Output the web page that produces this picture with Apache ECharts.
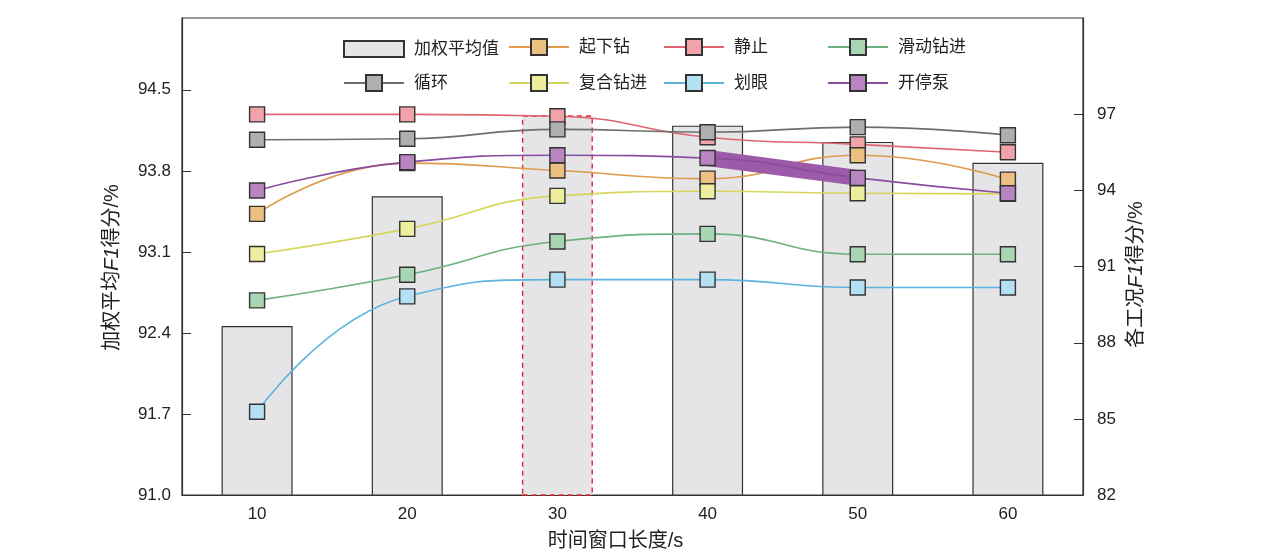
<!DOCTYPE html>
<html>
<head>
<meta charset="utf-8">
<script src="https://cdn.jsdelivr.net/npm/echarts@6/dist/echarts.min.js"></script>
<style>
  html, body { margin: 0; padding: 0; background: #fff; }
  #mainChart { width: 1270px; height: 560px; }
</style>
</head>
<body>
<div id="mainChart"></div>
<script>
// time window lengths (s)
var windows = ['10', '20', '30', '40', '50', '60'];

// weighted average F1 (left axis)
var weightedAvg = [92.46, 93.58, 94.28, 94.19, 94.05, 93.87];

// per-condition F1 (right axis)
var trip      = [93.08, 95.08, 94.79, 94.47, 95.39, 94.43]; // 起下钻
var still     = [97.00, 97.00, 96.93, 96.10, 95.82, 95.51]; // 静止
var slide     = [89.67, 90.68, 91.99, 92.29, 91.49, 91.49]; // 滑动钻进
var circulate = [96.00, 96.04, 96.41, 96.30, 96.50, 96.18]; // 循环
var rotary    = [91.50, 92.49, 93.79, 93.97, 93.89, 93.87]; // 复合钻进
var ream      = [85.28, 89.83, 90.49, 90.49, 90.18, 90.18]; // 划眼
var pump      = [94.00, 95.12, 95.39, 95.28, 94.50, 93.89]; // 开停泵

// tick labels
var leftTicks  = [91.0, 91.7, 92.4, 93.1, 93.8, 94.5];
var rightTicks = [82, 85, 88, 91, 94, 97];

var FONT = 'Arial, "Liberation Sans", "Noto Sans CJK SC", sans-serif';

var chart = echarts.init(document.getElementById('mainChart'));

function lineSeries(name, data, lineColor, fill) {
    return {
        name: name,
        type: 'line',
        yAxisIndex: 1,
        data: data,
        smooth: 0.5,
        symbol: 'rect',
        symbolSize: 15,
        lineStyle: { color: lineColor, width: 1.6 },
        itemStyle: { color: fill, borderColor: '#333', borderWidth: 1.4 },
        emphasis: { disabled: true },
        z: 3
    };
}

function legendAt(name, left, top, h) {
    return {
        data: [name],
        left: left,
        top: top,
        padding: 0,
        itemWidth: 60,
        itemHeight: h,
        textStyle: { fontFamily: FONT, fontSize: 17, color: '#222', padding: [0, 0, 0, 5] },
        selectedMode: false
    };
}

// bar at 30 s is highlighted with a red dashed outline
var barData = weightedAvg.map(function (v, i) {
    if (i === 2) {
        return { value: v, itemStyle: { borderColor: '#e0262f', borderType: [5, 4], borderWidth: 1.4 } };
    }
    return v;
});

// the thick purple stroke between 40 s and 50 s
var pumpBand = pump.map(function (v, i) { return (i === 3 || i === 4) ? v : null; });

var option = {
    animation: false,
    textStyle: { fontFamily: FONT },
    grid: {
        left: 182, right: 187, top: 18, bottom: 65,
        show: true, borderColor: '#333', borderWidth: 1.2
    },
    legend: [
        Object.assign(legendAt('加权平均值', 343, 40, 16), { icon: 'rect' }),
        legendAt('起下钻', 508, 38, 20),
        legendAt('静止', 663, 38, 20),
        legendAt('滑动钻进', 827, 38, 20),
        legendAt('循环', 343, 74, 20),
        legendAt('复合钻进', 508, 74, 20),
        legendAt('划眼', 663, 74, 20),
        legendAt('开停泵', 827, 74, 20)
    ],
    xAxis: {
        type: 'category',
        data: windows,
        boundaryGap: true,
        name: '时间窗口长度/s',
        nameLocation: 'middle',
        nameGap: 36,
        nameTextStyle: { fontFamily: FONT, fontSize: 20, color: '#222', padding: [0, 34, 0, 0] },
        axisLine: { lineStyle: { color: '#333', width: 1.2 } },
        axisTick: { inside: true, length: 8, lineStyle: { color: '#333' } },
        axisLabel: { fontFamily: FONT, fontSize: 17, color: '#222', margin: 11 }
    },
    yAxis: [
        {
            type: 'value',
            min: 91.0,
            max: 95.12,
            interval: 0.7,
            name: '加权平均{i|F1}得分/%',
            nameLocation: 'middle',
            nameGap: 60,
            nameTextStyle: {
                fontFamily: FONT, fontSize: 20, color: '#222', padding: [0, 22, 0, 0],
                rich: { i: { fontFamily: FONT, fontSize: 20, fontStyle: 'italic', color: '#222' } }
            },
            axisLine: { show: true, lineStyle: { color: '#333', width: 1.2 } },
            axisTick: { show: true, inside: true, length: 9, customValues: leftTicks, lineStyle: { color: '#333' } },
            axisLabel: {
                fontFamily: FONT, fontSize: 17, color: '#222', margin: 11,
                customValues: leftTicks,
                formatter: function (v) { return v.toFixed(1); }
            },
            splitLine: { show: false }
        },
        {
            type: 'value',
            min: 82,
            max: 100.8,
            interval: 3,
            position: 'right',
            name: '各工况{i|F1}得分/%',
            nameLocation: 'middle',
            nameGap: 30,
            nameTextStyle: {
                fontFamily: FONT, fontSize: 20, color: '#222', padding: [0, 36, 0, 0],
                rich: { i: { fontFamily: FONT, fontSize: 20, fontStyle: 'italic', color: '#222' } }
            },
            axisLine: { show: true, lineStyle: { color: '#333', width: 1.2 } },
            axisTick: { show: true, inside: true, length: 9, customValues: rightTicks, lineStyle: { color: '#333' } },
            axisLabel: { fontFamily: FONT, fontSize: 17, color: '#222', margin: 14, customValues: rightTicks },
            splitLine: { show: false }
        }
    ],
    series: [
        {
            name: '加权平均值',
            type: 'bar',
            yAxisIndex: 0,
            data: barData,
            barWidth: 71,
            itemStyle: { color: '#e5e5e7', borderColor: '#333', borderWidth: 1.2 },
            emphasis: { disabled: true },
            z: 1
        },
        lineSeries('静止', still, '#e0646e', '#f2a3a9'),
        lineSeries('循环', circulate, '#6e6e6e', '#b0aeae'),
        lineSeries('起下钻', trip, '#e09a4c', '#ecc080'),
        lineSeries('复合钻进', rotary, '#d6d65c', '#eeee9f'),
        lineSeries('滑动钻进', slide, '#6cb27c', '#a9d6b2'),
        lineSeries('划眼', ream, '#5ab4dc', '#b4e0f3'),
        {
            name: 'pumpBand',
            type: 'line',
            yAxisIndex: 1,
            data: pumpBand,
            symbol: 'none',
            lineStyle: { color: '#9b5ba8', width: 16 },
            emphasis: { disabled: true },
            z: 3
        },
        lineSeries('开停泵', pump, '#8a4c9e', '#b985c0')
    ]
};

chart.setOption(option);
</script>
</body>
</html>
